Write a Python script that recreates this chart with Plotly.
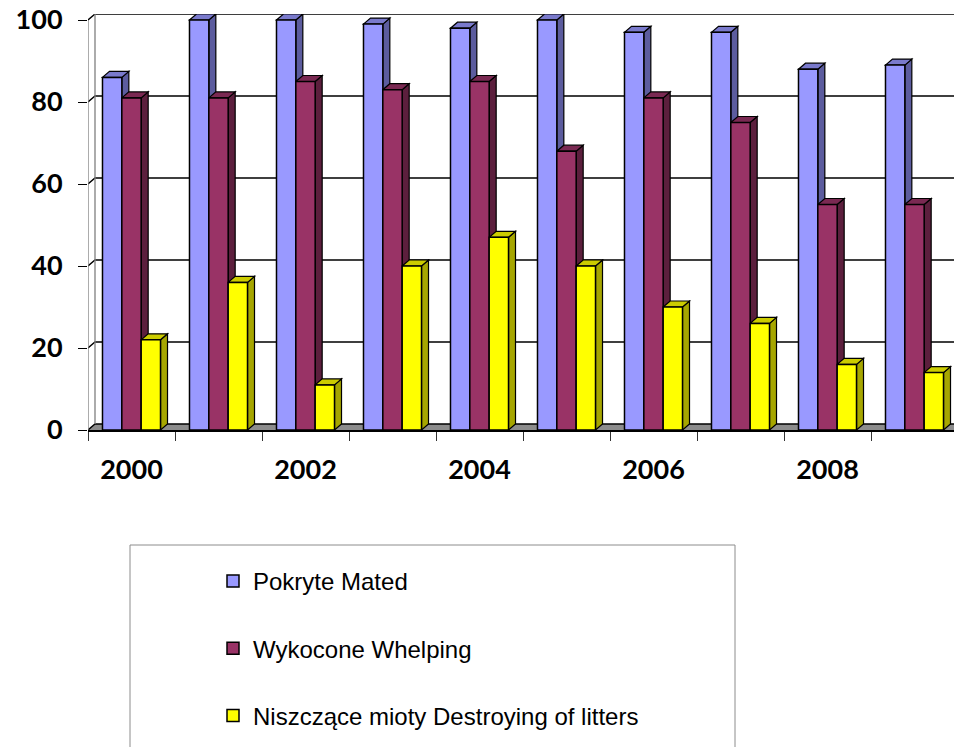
import plotly.graph_objects as go

# ---- data -------------------------------------------------------------
years = [2000, 2001, 2002, 2003, 2004, 2005, 2006, 2007, 2008, 2009]
mated = [86, 100, 100, 99, 98, 100, 97, 97, 88, 89]
whelping = [81, 81, 85, 83, 85, 68, 81, 75, 55, 55]
destroyed = [22, 36, 11, 40, 47, 40, 30, 26, 16, 14]
series_names = ["Pokryte Mated", "Wykocone Whelping",
                "Niszczące mioty Destroying of litters"]
y_ticks = [0, 20, 40, 60, 80, 100]
x_tick_years = [2000, 2002, 2004, 2006, 2008]
x_tick_text = ["2000", "2002", "2004", "2006", "2008"]

# ---- styling ----------------------------------------------------------
front_colors = ["#9999FF", "#993366", "#FFFF00"]
side_colors = ["#5C5C9E", "#5C1F3D", "#A6A600"]
top_colors = ["#7A7ACC", "#7A2952", "#CCCC00"]

W, H = 954, 747
M_L, M_R, M_T, M_B = 88, 0, 14, 317
PX_PER_CAT = 87.0
PX_PER_UNIT = 4.1
plot_w = W - M_L - M_R
plot_h = H - M_T - M_B

x_lo = years[0] - 0.5
x_hi = x_lo + plot_w / PX_PER_CAT
y_hi = plot_h / PX_PER_UNIT

# pseudo-3D depth offset, in data units
DX = 7 / PX_PER_CAT
DY = 6 / PX_PER_UNIT

bar_w = 0.667 / 3
offsets = [-0.3335 + i * bar_w for i in range(3)]

fig = go.Figure()
shapes = []

# floor of the 3D box
shapes.append(dict(
    type="path", xref="x", yref="y", layer="below",
    path=f"M{x_lo},0 L{x_hi},0 L{x_hi + DX},{DY} L{x_lo + DX},{DY} Z",
    fillcolor="#8C8C8C", line=dict(color="#8C8C8C", width=0)))

# side wall and back wall gridlines
for v in y_ticks:
    shapes.append(dict(
        type="path", xref="x", yref="y", layer="below",
        path=f"M{x_lo},{v} L{x_lo + DX},{v + DY} L{x_hi},{v + DY}",
        line=dict(color="black", width=1.4)))
shapes.append(dict(type="line", xref="x", yref="y", layer="below",
                   x0=x_lo, y0=0, x1=x_lo, y1=100,
                   line=dict(color="#7F7F7F", width=1.3)))
shapes.append(dict(type="line", xref="x", yref="y", layer="below",
                   x0=x_lo + DX, y0=DY, x1=x_lo + DX, y1=100 + DY,
                   line=dict(color="#7F7F7F", width=1.3)))

# side and top faces of the columns
for s, vals in enumerate([mated, whelping, destroyed]):
    for yr, v in zip(years, vals):
        xl = yr + offsets[s]
        xr = xl + bar_w
        shapes.append(dict(
            type="path", xref="x", yref="y", layer="between",
            path=f"M{xr},0 L{xr},{v} L{xr + DX},{v + DY} L{xr + DX},{DY} Z",
            fillcolor=side_colors[s], line=dict(color="black", width=1.2)))
        shapes.append(dict(
            type="path", xref="x", yref="y", layer="between",
            path=f"M{xl},{v} L{xr},{v} L{xr + DX},{v + DY} L{xl + DX},{v + DY} Z",
            fillcolor=top_colors[s], line=dict(color="black", width=1.2)))

# front faces
for s, vals in enumerate([mated, whelping, destroyed]):
    fig.add_trace(go.Bar(
        x=years, y=vals, name=series_names[s],
        width=bar_w, offset=offsets[s],
        legendgroup=f"g{s}",
        marker=dict(color=front_colors[s], line=dict(color="black", width=1.5)),
    ))

# legend frame
shapes.append(dict(
    type="rect", xref="paper", yref="paper", layer="above",
    x0=(130 - M_L) / plot_w, x1=(735 - M_L) / plot_w,
    y0=-(760 - (H - M_B)) / plot_h, y1=-(545 - (H - M_B)) / plot_h,
    fillcolor="rgba(0,0,0,0)", line=dict(color="#8C8C8C", width=1)))

tick_font = dict(family="Lato, Open Sans, sans-serif", size=27,
                 color="black", weight=700)

fig.update_layout(
    width=W, height=H,
    margin=dict(l=M_L, r=M_R, t=M_T, b=M_B, autoexpand=False),
    paper_bgcolor="white", plot_bgcolor="white",
    barmode="overlay",
    shapes=shapes,
    showlegend=True,
    legend=dict(
        x=(213 - M_L) / plot_w, y=-(559 - (H - M_B)) / plot_h,
        xanchor="left", yanchor="top",
        font=dict(family="Liberation Sans, Arial, sans-serif", size=24,
                  color="black"),
        tracegroupgap=33, bgcolor="rgba(0,0,0,0)", borderwidth=0,
    ),
    xaxis=dict(
        range=[x_lo, x_hi], tickmode="array",
        tickvals=x_tick_years, ticktext=x_tick_text,
        ticks="", showgrid=False, zeroline=False,
        showline=True, linecolor="black", linewidth=1.5,
        tickfont=tick_font, ticklabelstandoff=15,
        minor=dict(tick0=x_lo, dtick=1, ticks="outside", ticklen=9,
                   tickcolor="#333333", tickwidth=1.2, showgrid=False),
    ),
    yaxis=dict(
        range=[0, y_hi], tickmode="array", tickvals=y_ticks,
        ticks="outside", ticklen=9, tickcolor="black", tickwidth=1.2,
        showgrid=False, zeroline=False, showline=False,
        tickfont=tick_font, ticklabelstandoff=10,
    ),
)

fig.write_html("out.html")
